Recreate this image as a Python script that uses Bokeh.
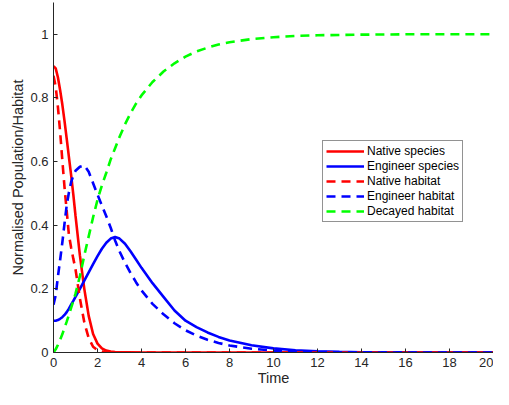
from bokeh.plotting import figure
from bokeh.models import Range1d, FixedTicker, Legend, LegendItem
from bokeh.embed import file_html
from bokeh.resources import INLINE

# ---- data ----
time = [0, 0.1, 0.2, 0.3, 0.4, 0.5, 0.6, 0.7, 0.8, 0.9, 1.0, 1.2, 1.4, 1.6, 1.8,
        2.0, 2.2, 2.4, 2.6, 2.8, 3.0, 3.25, 3.5, 3.75, 4.0, 4.5, 5.0, 5.5, 6.0,
        6.5, 7.0, 7.5, 8.0, 9.0, 10.0, 11.0, 12.0, 13.0, 14.0, 16.0, 18.0, 20.0]

native_species = [0.900, 0.893, 0.865, 0.825, 0.780, 0.728, 0.672, 0.615, 0.558, 0.497,
                  0.430, 0.305, 0.200, 0.115, 0.058, 0.028, 0.013, 0.006, 0.003, 0.0015,
                  0.001, 0.0005, 0.0003, 0, 0, 0, 0, 0, 0, 0, 0, 0, 0, 0, 0, 0, 0,
                  0, 0, 0, 0, 0]

engineer_species = [0.100, 0.100, 0.102, 0.106, 0.111, 0.118, 0.127, 0.138, 0.150, 0.162,
                    0.175, 0.200, 0.226, 0.252, 0.278, 0.303, 0.326, 0.345, 0.358, 0.363,
                    0.358, 0.342, 0.318, 0.292, 0.266, 0.218, 0.175, 0.132, 0.100, 0.080,
                    0.063, 0.049, 0.038, 0.023, 0.013, 0.007, 0.004, 0.002, 0.001, 0.0003,
                    0.0001, 0.0]

native_habitat = [0.870, 0.835, 0.772, 0.695, 0.605, 0.520, 0.445, 0.370, 0.330, 0.295,
                  0.262, 0.170, 0.095, 0.045, 0.018, 0.007, 0.003, 0.0015, 0.0008, 0.0004,
                  0.0002, 0, 0, 0, 0, 0, 0, 0, 0, 0, 0, 0, 0, 0, 0, 0, 0, 0, 0, 0, 0, 0]

engineer_habitat = [0.150, 0.180, 0.238, 0.290, 0.345, 0.405, 0.462, 0.503, 0.535, 0.556,
                    0.571, 0.584, 0.588, 0.568, 0.532, 0.496, 0.462, 0.428, 0.392, 0.352,
                    0.318, 0.282, 0.250, 0.221, 0.195, 0.153, 0.120, 0.092, 0.070, 0.053,
                    0.040, 0.030, 0.022, 0.012, 0.006, 0.003, 0.0015, 0.0007, 0.0003, 0.0001,
                    0.0, 0.0]

decayed_habitat = [0.000, 0.010, 0.024, 0.040, 0.057, 0.077, 0.097, 0.118, 0.140, 0.162,
                   0.185, 0.240, 0.305, 0.365, 0.425, 0.480, 0.525, 0.565, 0.607, 0.642,
                   0.677, 0.717, 0.752, 0.782, 0.808, 0.850, 0.883, 0.909, 0.930, 0.946,
                   0.958, 0.968, 0.975, 0.985, 0.991, 0.995, 0.997, 0.998, 0.999, 1.000,
                   1.000, 1.000]

series_names = ["Native species", "Engineer species", "Native habitat",
                "Engineer habitat", "Decayed habitat"]

xticks = [0, 2, 4, 6, 8, 10, 12, 14, 16, 18, 20]
yticks = [0, 0.2, 0.4, 0.6, 0.8, 1]
ytick_labels = ["0", "0.2", "0.4", "0.6", "0.8", "1"]

FONT = "Liberation Sans"
AX = "#262626"

p = figure(width=493, height=389, output_backend="svg", toolbar_location=None,
           x_range=Range1d(0, 20), y_range=Range1d(0, 1.1),
           min_border_left=53, min_border_right=0, min_border_top=2,
           min_border_bottom=37)
p.outline_line_color = None
p.xgrid.grid_line_color = None
p.ygrid.grid_line_color = None
p.background_fill_color = "white"
p.border_fill_color = "white"

styles = [
    (native_species, "#FF0000", "solid"),
    (engineer_species, "#0000FF", "solid"),
    (native_habitat, "#FF0000", "9 6"),
    (engineer_habitat, "#0000FF", "9 6"),
    (decayed_habitat, "#00FF00", "9 6"),
]

items = []
for name, (ys, col, dash) in zip(series_names, styles):
    r = p.line(time, ys, line_color=col, line_width=2.6, line_dash=dash)
    items.append(LegendItem(label=name, renderers=[r]))

legend = Legend(items=items, location=(269, 130))
legend.label_text_font = FONT
legend.label_text_font_size = "12px"
legend.label_text_color = "black"
legend.glyph_width = 38
legend.glyph_height = 14
legend.label_height = 14
legend.label_standoff = 3
legend.spacing = 1
legend.padding = 3
legend.margin = 0
legend.border_line_color = AX
legend.border_line_width = 1
legend.background_fill_color = "white"
legend.background_fill_alpha = 1
p.add_layout(legend)

for ax in (p.xaxis[0], p.yaxis[0]):
    ax.axis_line_color = AX
    ax.axis_line_width = 1
    ax.major_tick_line_color = AX
    ax.major_tick_in = 4
    ax.major_tick_out = 0
    ax.minor_tick_line_color = None
    ax.major_label_text_font = FONT
    ax.major_label_text_font_size = "13px"
    ax.major_label_text_color = AX
    ax.axis_label_text_font = FONT
    ax.axis_label_text_font_size = "14.5px"
    ax.axis_label_text_font_style = "normal"
    ax.axis_label_text_color = AX

p.xaxis.ticker = FixedTicker(ticks=xticks)
p.yaxis.ticker = FixedTicker(ticks=yticks)
p.yaxis.major_label_overrides = {v: s for v, s in zip(yticks, ytick_labels)}
p.xaxis.axis_label = "Time"
p.yaxis.axis_label = "Normalised Population/Habitat"
p.xaxis.major_label_standoff = 5
p.xaxis.axis_label_standoff = 0
p.yaxis.major_label_standoff = 5
p.yaxis.axis_label_standoff = 1

open("out.html", "w").write(file_html(p, INLINE))
